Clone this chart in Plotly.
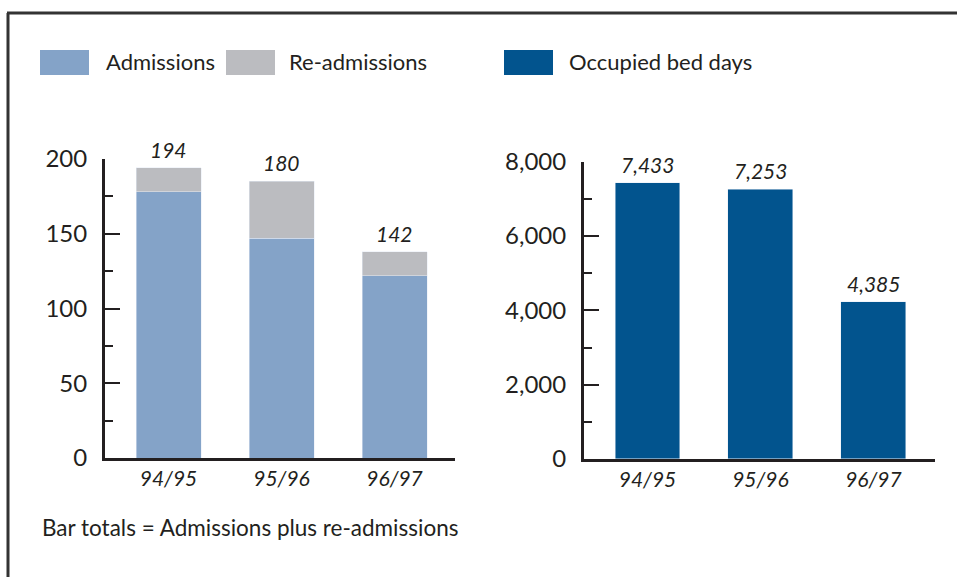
import plotly.graph_objects as go

W, H = 957, 577

years = ['94/95', '95/96', '96/97']
admissions = [178, 147, 122]
readmissions = [16, 38, 16]
admission_totals = ['194', '180', '142']
bed_days = [7433, 7253, 4230]
bed_day_labels = ['7,433', '7,253', '4,385']

C_ADM = '#84a3c8'
C_READM = '#bbbcc0'
C_BED = '#02548e'
INK = '#231f20'
FONT = 'Lato'


def px_x(p):
    return p / W


def px_y(p):
    return 1 - p / H


fig = go.Figure()
fig.add_trace(go.Bar(x=years, y=admissions, name='Admissions', marker_color=C_ADM,
                     width=0.575, xaxis='x', yaxis='y'))
fig.add_trace(go.Bar(x=years, y=readmissions, name='Re-admissions', marker_color=C_READM,
                     width=0.575, xaxis='x', yaxis='y'))
fig.add_trace(go.Bar(x=years, y=bed_days, name='Occupied bed days', marker_color=C_BED,
                     width=0.575, xaxis='x2', yaxis='y2'))

# value labels above the bars
totals = [a + r for a, r in zip(admissions, readmissions)]
for yr, t, lab in zip(years, totals, admission_totals):
    fig.add_annotation(x=yr, y=t, xref='x', yref='y', text=lab, showarrow=False,
                       yanchor='bottom', yshift=4,
                       font=dict(family=FONT, size=21, color=INK, style='italic'))
for yr, v, lab in zip(years, bed_days, bed_day_labels):
    fig.add_annotation(x=yr, y=v, xref='x2', yref='y2', text=lab, showarrow=False,
                       yanchor='bottom', yshift=4,
                       font=dict(family=FONT, size=21, color=INK, style='italic'))

# legend swatches + labels
legend_items = [(40, C_ADM, 'Admissions', 104),
                (226, C_READM, 'Re-admissions', 287),
                (504, C_BED, 'Occupied bed days', 567)]
for x0, col, txt, tx in legend_items:
    fig.add_shape(type='rect', xref='paper', yref='paper',
                  x0=px_x(x0), x1=px_x(x0 + 49), y0=px_y(75), y1=px_y(50),
                  fillcolor=col, line_width=0)
    fig.add_annotation(x=px_x(tx), y=px_y(61), xref='paper', yref='paper', text=txt,
                       showarrow=False, xanchor='left', yanchor='middle',
                       font=dict(family=FONT, size=22, color=INK))

fig.add_annotation(x=px_x(40), y=px_y(527), xref='paper', yref='paper',
                   text='Bar totals = Admissions plus re-admissions', showarrow=False,
                   xanchor='left', yanchor='middle',
                   font=dict(family=FONT, size=22.5, color=INK))

# frame (top and left only)
fig.add_shape(type='line', xref='paper', yref='paper', x0=px_x(7), x1=1.0,
              y0=px_y(13), y1=px_y(13), line=dict(color='#333333', width=3))
fig.add_shape(type='line', xref='paper', yref='paper', x0=px_x(8), x1=px_x(8),
              y0=px_y(13), y1=0, line=dict(color='#333333', width=3))

axis_common = dict(showgrid=False, zeroline=False, showline=True, linecolor=INK, linewidth=3,
                   fixedrange=True, automargin=False)
xfont = dict(family=FONT, size=21, color=INK, style='italic')
yfont = dict(family=FONT, size=24, color=INK)

fig.update_layout(
    width=W, height=H,
    margin=dict(l=0, r=0, t=0, b=0, pad=0, autoexpand=False),
    paper_bgcolor='white', plot_bgcolor='white',
    barmode='stack', showlegend=False,
    xaxis=dict(domain=[px_x(105), px_x(455)], anchor='y', range=[-0.562, 2.535],
               ticks='', tickfont=xfont, **axis_common),
    yaxis=dict(domain=[px_y(458), px_y(159)], anchor='x', range=[0, 200],
               tickvals=[0, 50, 100, 150, 200], ticks='inside', ticklen=15, tickwidth=2,
               tickcolor=INK, tickfont=yfont, ticklabelstandoff=10,
               minor=dict(tickvals=[25, 75, 125, 175], ticks='inside', ticklen=8,
                          tickwidth=2, tickcolor=INK),
               **axis_common),
    xaxis2=dict(domain=[px_x(584), px_x(935)], anchor='y2', range=[-0.562, 2.545],
                ticks='', tickfont=xfont, **axis_common),
    yaxis2=dict(domain=[px_y(459), px_y(161.7)], anchor='x2', range=[0, 8000],
                tickvals=[0, 2000, 4000, 6000, 8000], tickformat=',d', ticks='inside',
                ticklen=15, tickwidth=2, tickcolor=INK, tickfont=yfont, ticklabelstandoff=10,
                minor=dict(tickvals=[1000, 3000, 5000, 7000], ticks='inside', ticklen=8,
                           tickwidth=2, tickcolor=INK),
                **axis_common),
)

fig.write_html('out.html', config={'displayModeBar': False},
               post_script="document.body.style.margin='0';")
